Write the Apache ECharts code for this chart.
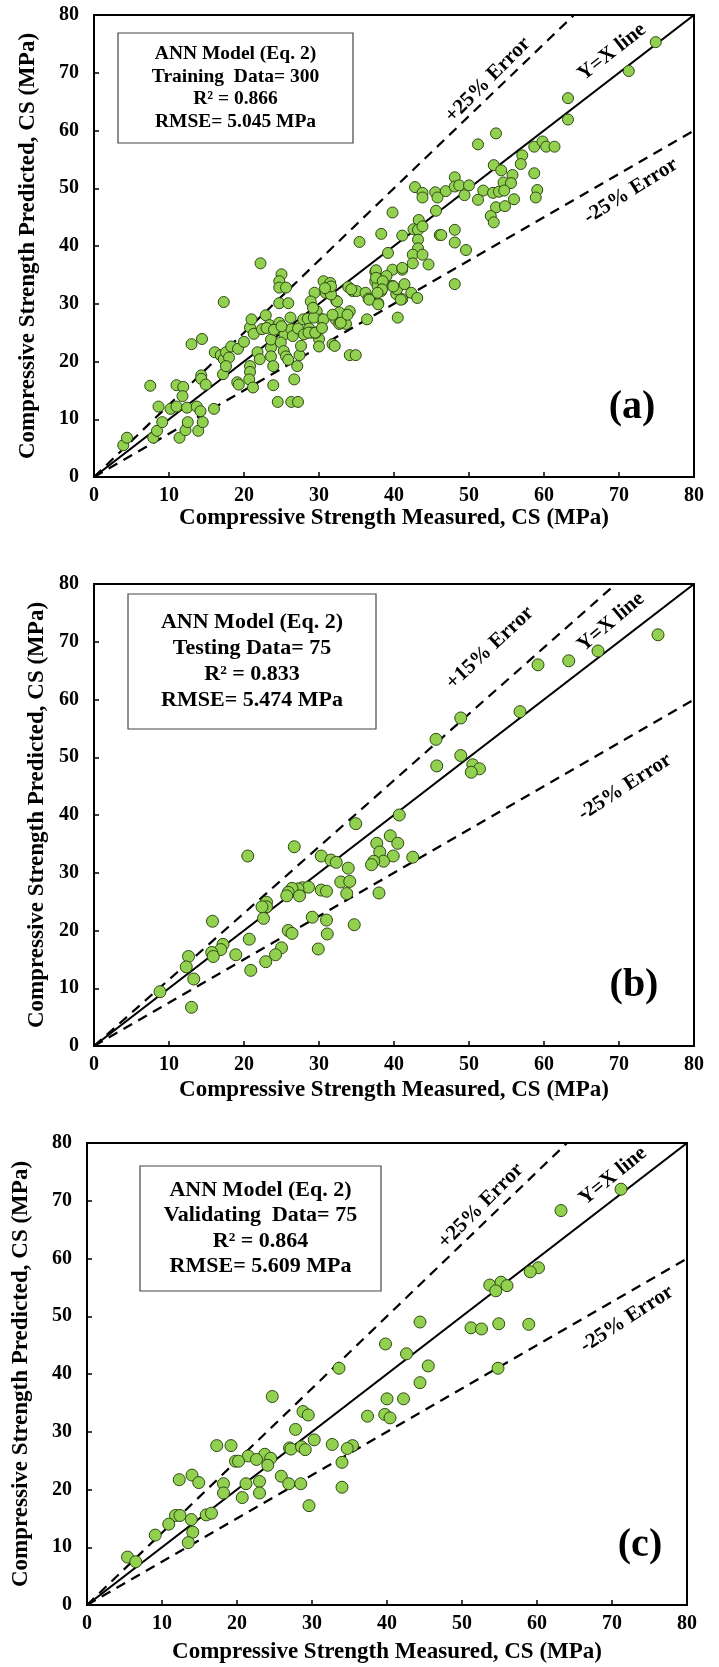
<!DOCTYPE html>
<html>
<head>
<meta charset="utf-8">
<script src="https://cdn.jsdelivr.net/npm/echarts@6/dist/echarts.min.js"></script>
<style>
  html, body { margin: 0; padding: 0; background: #fff; }
  #chart { width: 719px; height: 1667px; }
</style>
</head>
<body>
<div id="chart"></div>
<script>
  // axis ticks (same for x and y in every panel)
  const tickValues = [0, 10, 20, 30, 40, 50, 60, 70, 80]

  // measured vs predicted
  const trainPoints = [
    [3.9, 5.5], [4.4, 6.8], [7.5, 15.8], [7.9, 6.8], [8.4, 8.0], [8.6, 12.2], [9.1, 9.5], [10.2, 11.8],
    [11.0, 15.9], [11.9, 15.6], [11.8, 14.0], [11.0, 12.2], [11.4, 6.8], [12.2, 8.1], [12.4, 12.0], [12.5, 9.5],
    [13.0, 23.0], [13.7, 12.2], [14.2, 11.4], [13.9, 8.0], [14.5, 9.5], [14.3, 17.6], [14.3, 17.0], [14.4, 23.9],
    [14.9, 16.0], [16.0, 11.8], [16.1, 21.6], [16.9, 21.1], [17.3, 30.3], [17.3, 20.4], [17.6, 21.6], [18.0, 20.7],
    [18.3, 22.6], [17.2, 17.8], [17.6, 19.2], [19.2, 22.2], [19.1, 16.4], [19.3, 16.0], [20.0, 23.4], [20.8, 19.2],
    [20.8, 18.2], [20.7, 16.9], [21.2, 15.5], [20.8, 25.9], [21.0, 27.3], [21.3, 24.8], [21.8, 21.6], [22.1, 20.4],
    [22.2, 37.0], [22.4, 25.6], [22.9, 28.0], [23.4, 26.3], [23.6, 22.4], [23.6, 20.9], [23.9, 19.2], [23.9, 15.9],
    [24.5, 13.0], [23.6, 23.8], [24.1, 25.6], [24.7, 30.1], [25.0, 35.1], [24.7, 33.9], [24.7, 32.8], [25.6, 32.8],
    [25.9, 30.1], [24.7, 26.7], [25.3, 25.6], [25.4, 24.7], [24.9, 23.3], [25.3, 21.8], [25.6, 20.9], [25.9, 20.3],
    [26.2, 27.6], [26.3, 25.6], [26.5, 24.4], [26.7, 16.9], [26.3, 13.0], [27.2, 13.0], [27.1, 19.2], [27.4, 21.1],
    [27.6, 22.7], [27.2, 25.7], [27.9, 27.3], [28.5, 27.4], [28.7, 25.7], [29.0, 25.0], [29.4, 31.9], [29.7, 28.7],
    [30.0, 23.9], [30.0, 22.6], [29.6, 25.0], [30.3, 27.3], [30.6, 33.9], [30.9, 31.9], [31.5, 33.6], [31.5, 31.9],
    [31.8, 23.0], [32.1, 22.7], [32.2, 27.3], [32.3, 30.5], [32.7, 28.5], [32.7, 26.5], [33.6, 26.5], [33.9, 32.9],
    [34.1, 28.7], [34.1, 21.1], [34.9, 21.1], [34.5, 32.2], [35.0, 32.2], [35.4, 40.7], [36.2, 31.9], [36.4, 27.3],
    [36.6, 30.9], [37.5, 35.5], [37.5, 33.9], [37.8, 33.1], [37.9, 30.1], [38.3, 32.2], [38.3, 42.1], [39.2, 38.8],
    [39.8, 45.8], [39.8, 35.9], [39.8, 33.1], [40.5, 27.6], [41.1, 41.8], [41.1, 30.8], [41.1, 35.9],
    [23.0, 25.8], [24.0, 25.5], [25.0, 26.1], [28.0, 24.7], [29.3, 27.6], [30.6, 27.3], [31.8, 28.1], [32.9, 26.7],
    [33.8, 28.1], [28.6, 25.0], [29.5, 25.0], [30.4, 25.8], [28.9, 30.4], [32.4, 30.4], [31.6, 31.6], [31.6, 33.0],
    [30.8, 32.7], [29.2, 29.3], [37.6, 35.8], [39.0, 34.8], [37.6, 34.5], [38.5, 33.9], [38.4, 32.5], [37.8, 31.9],
    [36.7, 30.7], [37.9, 29.9], [40.3, 31.7], [40.4, 32.5], [39.9, 33.0], [40.9, 30.7], [41.4, 33.4], [42.3, 31.9],
    [43.1, 31.0], [41.1, 36.2], [34.3, 32.5],
    [74.9, 75.3], [71.3, 70.3], [63.2, 65.6], [63.2, 61.9], [53.6, 59.5], [51.2, 57.6], [58.7, 57.2], [59.8, 58.1],
    [60.3, 57.2], [61.4, 57.2], [57.1, 55.7], [56.9, 54.2], [53.3, 54.0], [54.3, 53.1], [55.8, 52.3], [58.7, 52.6],
    [48.1, 51.9], [42.8, 50.2], [43.8, 49.2], [45.5, 49.3], [46.9, 49.5], [48.1, 50.3], [48.7, 50.5], [50.0, 50.5],
    [51.9, 49.6], [53.2, 49.2], [54.6, 51.0], [55.6, 50.9], [54.0, 49.4], [54.7, 49.6], [43.8, 48.4], [45.8, 48.4],
    [49.4, 48.8], [51.2, 48.0], [56.0, 48.1], [59.1, 49.7], [58.9, 48.4], [53.6, 46.7], [54.8, 46.9], [45.6, 46.1],
    [52.9, 45.2], [53.3, 44.1], [43.3, 44.5], [42.6, 42.9], [43.2, 42.8], [43.8, 43.4], [46.1, 41.9], [46.3, 41.9],
    [48.1, 42.8], [48.1, 40.6], [49.6, 39.3], [43.2, 41.1], [43.2, 39.6], [42.5, 38.5], [43.8, 38.5], [42.5, 37.0],
    [44.6, 36.8], [48.1, 33.4]
  ]

  const testPoints = [
    [75.2, 71.2], [67.2, 68.4], [63.3, 66.7], [59.2, 66.0], [56.8, 57.9], [48.9, 56.8], [45.6, 53.1], [45.7, 48.5],
    [48.9, 50.3], [50.5, 48.7], [51.4, 48.0], [50.3, 47.4], [40.7, 40.0], [34.9, 38.5], [39.5, 36.4], [37.7, 35.1],
    [40.5, 35.1], [38.1, 33.6], [39.9, 32.9], [42.5, 32.7], [38.6, 32.0], [37.3, 32.0], [37.0, 31.4], [38.0, 26.5],
    [33.9, 30.8], [32.9, 28.4], [34.1, 28.5], [33.7, 26.4], [26.7, 34.5], [20.5, 32.9], [30.3, 32.9], [31.6, 32.2],
    [32.3, 31.8], [27.8, 27.4], [28.6, 27.5], [27.2, 27.2], [26.4, 27.3], [25.9, 26.6], [25.7, 26.0], [27.4, 26.0],
    [30.3, 27.0], [31.0, 26.8], [23.0, 24.9], [23.0, 24.1], [22.4, 24.1], [22.6, 22.1], [29.1, 22.3], [31.0, 21.8],
    [34.7, 21.0], [25.9, 20.0], [26.4, 19.5], [31.1, 19.4], [15.8, 21.6], [20.7, 18.5], [17.2, 17.6], [16.9, 16.7],
    [15.7, 16.2], [15.9, 15.5], [18.9, 15.8], [25.0, 17.0], [24.2, 15.8], [29.9, 16.8], [22.9, 14.6], [20.9, 13.1],
    [12.6, 15.5], [12.3, 13.7], [13.3, 11.6], [8.8, 9.4], [13.0, 6.7]
  ]

  const validPoints = [
    [71.2, 72.0], [63.2, 68.3], [60.2, 58.4], [59.1, 57.7], [53.7, 55.4], [55.2, 55.9], [56.0, 55.3], [54.5, 54.4],
    [51.2, 48.0], [52.6, 47.8], [54.9, 48.7], [58.9, 48.6], [44.4, 49.0], [39.8, 45.2], [42.6, 43.5], [45.5, 41.4],
    [54.8, 41.0], [33.6, 41.0], [44.4, 38.5], [24.7, 36.1], [40.0, 35.7], [42.2, 35.7], [28.8, 33.5], [29.5, 32.9],
    [37.4, 32.7], [39.7, 33.0], [40.4, 32.4], [27.8, 30.4], [30.3, 28.6], [32.7, 27.8], [35.4, 27.6], [34.7, 27.1],
    [17.3, 27.6], [19.2, 27.6], [27.0, 27.2], [27.2, 27.0], [28.6, 27.4], [29.1, 26.9], [21.5, 25.8], [23.7, 26.1],
    [24.5, 25.4], [22.6, 25.2], [19.8, 24.9], [20.2, 24.9], [24.1, 24.2], [34.0, 24.7], [12.3, 21.7], [14.0, 22.5],
    [14.9, 21.2], [18.2, 21.0], [18.2, 19.4], [21.2, 21.0], [23.0, 21.4], [23.0, 19.4], [20.7, 18.6], [25.9, 22.3],
    [26.9, 21.0], [28.5, 21.0], [34.0, 20.4], [29.6, 17.2], [11.8, 15.5], [12.4, 15.5], [15.9, 15.6], [16.6, 15.9],
    [10.9, 14.0], [13.9, 14.8], [14.1, 12.6], [13.5, 10.8], [9.1, 12.1], [5.4, 8.3], [6.5, 7.5]
  ]

  // reference lines: Y=X and the error bands of each panel
  const lineX = [0, 80]
  const upperFactors = [1.25, 1.15, 1.25]
  const lowerFactors = [0.75, 0.75, 0.75]

  const infoLines = [
    ['ANN Model (Eq. 2)', 'Training  Data= 300', 'R² = 0.866', 'RMSE= 5.045 MPa'],
    ['ANN Model (Eq. 2)', 'Testing Data= 75', 'R² = 0.833', 'RMSE= 5.474 MPa'],
    ['ANN Model (Eq. 2)', 'Validating  Data= 75', 'R² = 0.864', 'RMSE= 5.609 MPa']
  ]
  const upperLabels = ['+25% Error', '+15% Error', '+25% Error']
  const panelTags = ['(a)', '(b)', '(c)']
  const allPoints = [trainPoints, testPoints, validPoints]

  const serif = 'Liberation Serif'
  const chart = echarts.init(document.getElementById('chart'))

  // layout of each panel (pixels)
  const layout = [
    {left: 94, top: 15, xGap: 30, yGap: 54, box: [118, 33, 235, 110], lineH: 22.5, boxFont: 19.5,
      yx: [612, 52, 38], up: [488, 80, 45], low: [631, 191, 32], tag: [632, 408]},
    {left: 94, top: 584, xGap: 33, yGap: 45, box: [128, 594, 248, 135], lineH: 26, boxFont: 22,
      yx: [611, 622, 40], up: [490, 648, 43], low: [625, 787, 33], tag: [634, 986]},
    {left: 87, top: 1143, xGap: 36, yGap: 54, box: [140, 1166, 241, 125], lineH: 25.5, boxFont: 22,
      yx: [613, 1176, 39], up: [481, 1206, 45], low: [627, 1319, 33], tag: [640, 1546]}
  ]

  const boldText = {fontFamily: serif, fontWeight: 'bold', color: '#000'}

  function axis(i, name, gap) {
    return {
      type: 'value', gridIndex: i,
      min: tickValues[0], max: tickValues[tickValues.length - 1], interval: tickValues[1] - tickValues[0],
      name: name, nameLocation: 'middle', nameGap: gap,
      nameTextStyle: Object.assign({fontSize: 23}, boldText),
      axisLine: {show: true, onZero: false, lineStyle: {color: '#000', width: 2}},
      axisTick: {show: true, inside: true, length: 5, lineStyle: {color: '#000', width: 1.5}},
      axisLabel: Object.assign({fontSize: 20, margin: name.indexOf('Predicted') >= 0 ? 15 : 9}, boldText),
      splitLine: {show: false}
    }
  }

  const grid = [], xAxis = [], yAxis = [], series = [], graphic = []

  layout.forEach(function (p, i) {
    grid.push({left: p.left, top: p.top, width: 600, height: 462, show: true,
      borderColor: '#000', borderWidth: 2, containLabel: false, outerBoundsMode: 'none'})
    xAxis.push(axis(i, 'Compressive Strength Measured, CS (MPa)', p.xGap))
    yAxis.push(axis(i, 'Compressive Strength Predicted, CS (MPa)', p.yGap))

    const refLines = [
      {k: 1, type: 'solid'},
      {k: upperFactors[i], type: [10, 7]},
      {k: lowerFactors[i], type: [10, 7]}
    ]
    refLines.forEach(function (r) {
      series.push({
        type: 'line', xAxisIndex: i, yAxisIndex: i, silent: true, symbol: 'none',
        data: lineX.map(function (x) { return [x, x * r.k] }),
        lineStyle: {color: '#000', width: 2.2, type: r.type}, z: 2
      })
    })

    series.push({
      type: 'scatter', xAxisIndex: i, yAxisIndex: i, data: allPoints[i], symbolSize: i === 0 ? 11 : 12,
      itemStyle: {color: '#92d050', borderColor: '#2e4a14', borderWidth: 1, opacity: 1}, z: 3
    })

    const b = p.box
    graphic.push({type: 'rect', shape: {x: b[0], y: b[1], width: b[2], height: b[3]},
      style: {fill: '#fff', stroke: '#444', lineWidth: 1.2}, z: 10})
    infoLines[i].forEach(function (t, j) {
      graphic.push({type: 'text', x: b[0] + b[2] / 2, y: b[1] + b[3] / 2 + (j - 1.5) * p.lineH, z: 11,
        style: {text: t, fontFamily: serif, fontWeight: 'bold', fontSize: p.boxFont, fill: '#000',
          textAlign: 'center', textVerticalAlign: 'middle'}})
    })

    const notes = [['Y=X line', p.yx, 21], [upperLabels[i], p.up, 21], ['-25% Error', p.low, 21]]
    notes.forEach(function (n) {
      graphic.push({type: 'text', x: n[1][0], y: n[1][1], rotation: n[1][2] * Math.PI / 180, z: 11,
        style: {text: n[0], fontFamily: serif, fontWeight: 'bold', fontSize: n[2], fill: '#000',
          textAlign: 'center', textVerticalAlign: 'middle'}})
    })

    graphic.push({type: 'text', x: p.tag[0], y: p.tag[1], z: 11,
      style: {text: panelTags[i], fontFamily: serif, fontWeight: 'bold', fontSize: 40, fill: '#000',
        textAlign: 'center', textVerticalAlign: 'middle'}})
  })

  chart.setOption({
    animation: false,
    backgroundColor: '#fff',
    grid: grid,
    xAxis: xAxis,
    yAxis: yAxis,
    series: series,
    graphic: graphic
  })
</script>
</body>
</html>
